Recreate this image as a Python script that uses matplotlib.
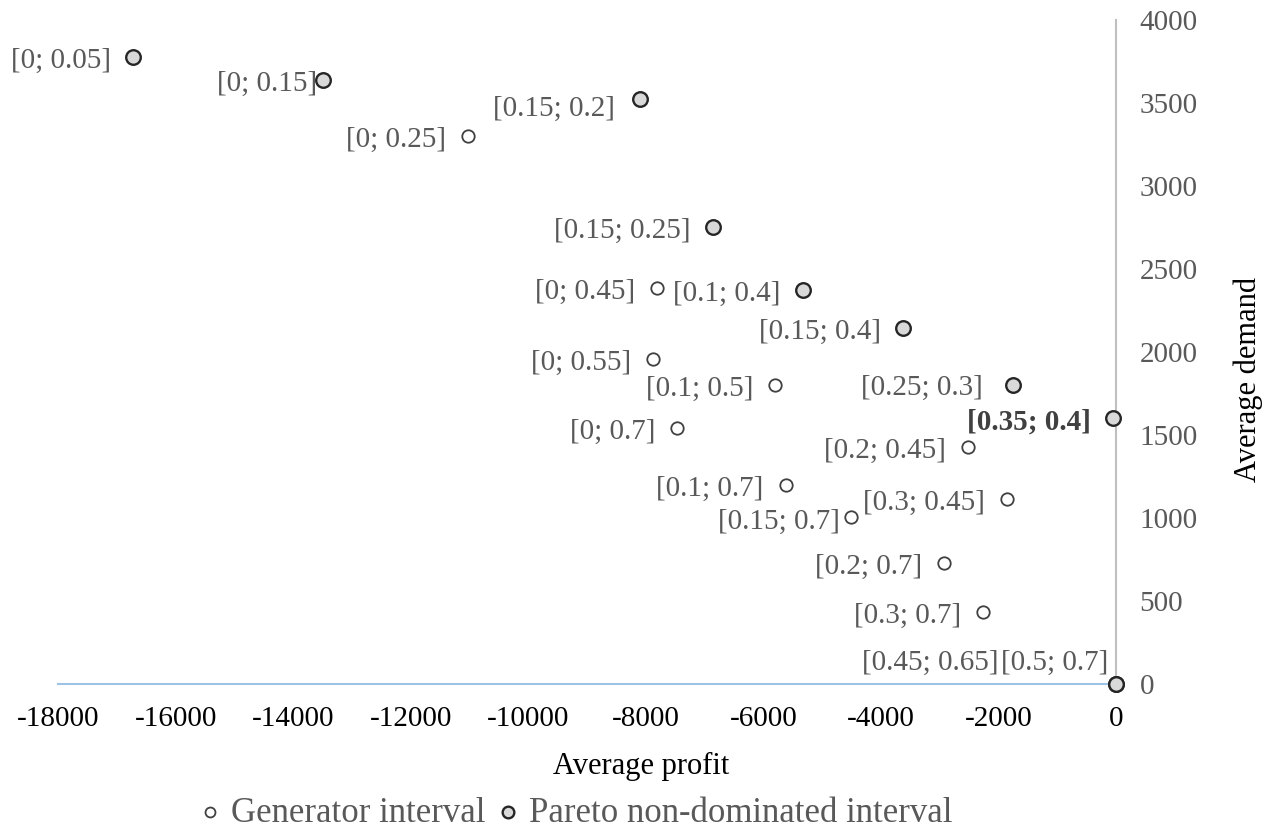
import matplotlib
matplotlib.use('Agg')
import matplotlib.pyplot as plt

plt.rcParams['font.family'] = ['Liberation Serif', 'DejaVu Serif']

# interval labels, average profit, average demand, pareto flag
labels = ['[0; 0.05]', '[0; 0.15]', '[0; 0.25]', '[0.15; 0.2]', '[0.15; 0.25]',
          '[0; 0.45]', '[0.1; 0.4]', '[0.15; 0.4]', '[0; 0.55]', '[0.1; 0.5]',
          '[0.25; 0.3]', '[0.35; 0.4]', '[0; 0.7]', '[0.2; 0.45]', '[0.1; 0.7]',
          '[0.3; 0.45]', '[0.15; 0.7]', '[0.2; 0.7]', '[0.3; 0.7]',
          '[0.45; 0.65]', '[0.5; 0.7]']
profit = [-16720, -13490, -11030, -8100, -6860,
          -7810, -5330, -3620, -7880, -5800,
          -1750, -50, -7470, -2520, -5620,
          -1850, -4510, -2930, -2260,
          0, 0]
demand = [3780, 3640, 3300, 3525, 2755,
          2385, 2375, 2145, 1960, 1800,
          1800, 1600, 1545, 1430, 1200,
          1115, 1005, 730, 435,
          0, 0]
pareto = [1, 1, 0, 1, 1,
          0, 1, 1, 0, 0,
          1, 1, 0, 0, 0,
          0, 0, 0, 0,
          1, 1]

xticks = list(range(-18000, 1, 2000))
yticks = list(range(0, 4001, 500))

# label offsets in pixels (default: left of point)
offsets = {
    '[0; 0.15]': (-6, -4),
    '[0.15; 0.2]': (-25, -10),
    '[0.25; 0.3]': (-30, -3),
    '[0.15; 0.7]': (-11, -5),
    '[0.45; 0.65]': (-118, 21),
    '[0.5; 0.7]': (-8, 21),
}

fig = plt.figure(figsize=(12.75, 8.36), dpi=100)
ax = fig.add_axes([0.0455, 0.1818, 0.8298, 0.7943])

gx = [p for p, f in zip(profit, pareto) if not f]
gy = [d for d, f in zip(demand, pareto) if not f]
px = [p for p, f in zip(profit, pareto) if f]
py = [d for d, f in zip(demand, pareto) if f]

ax.scatter(gx, gy, s=80, facecolor='white', edgecolor='#404040', linewidth=1.3,
           zorder=3, clip_on=False, label='Generator interval')
ax.scatter(px, py, s=110, facecolor='#d9d9d9', edgecolor='#262626', linewidth=1.7,
           zorder=4, clip_on=False, label='Pareto non-dominated interval')

for lab, x, y in zip(labels, profit, demand):
    dx, dy = offsets.get(lab, (-22, -4))
    bold = lab == '[0.35; 0.4]'
    ax.annotate(lab, (x, y), xytext=(dx, dy), textcoords='offset pixels',
                ha='right', va='center', fontsize=21,
                color='#404040' if bold else '#595959',
                fontweight='bold' if bold else 'normal', zorder=5)

ax.set_xlim(-18000, 0)
ax.set_ylim(0, 4000)
ax.set_xticks(xticks)
ax.set_yticks(yticks)
ax.set_xticklabels([str(t) for t in xticks])
ax.set_yticklabels([str(t) for t in yticks])

for s in ['top', 'left']:
    ax.spines[s].set_visible(False)
ax.spines['right'].set_color('#bfbfbf')
ax.spines['right'].set_linewidth(1.5)
ax.spines['bottom'].set_color('#9dc3e6')
ax.spines['bottom'].set_linewidth(1.5)

ax.yaxis.tick_right()
ax.yaxis.set_label_position('right')
ax.tick_params(axis='x', length=0, pad=16, labelsize=21, labelcolor='black')
ax.tick_params(axis='y', length=0, pad=17, labelsize=21, labelcolor='#595959')
for t in ax.get_yticklabels():
    t.set_horizontalalignment('left')

ax.set_xlabel('Average profit', fontsize=22)
ax.set_ylabel('Average demand', fontsize=22, rotation=90)
ax.xaxis.set_label_coords(0.551, -0.102)
ax.yaxis.set_label_coords(1.111, 0.459)

fig.legend(loc='center', bbox_to_anchor=(576 / 1275, 1 - 813 / 836), ncol=2,
           frameon=False, fontsize=25, labelcolor='#595959',
           handlelength=0.6, handletextpad=0.3, columnspacing=0.35, markerscale=0.8)

fig.savefig('out.png', dpi=100)
